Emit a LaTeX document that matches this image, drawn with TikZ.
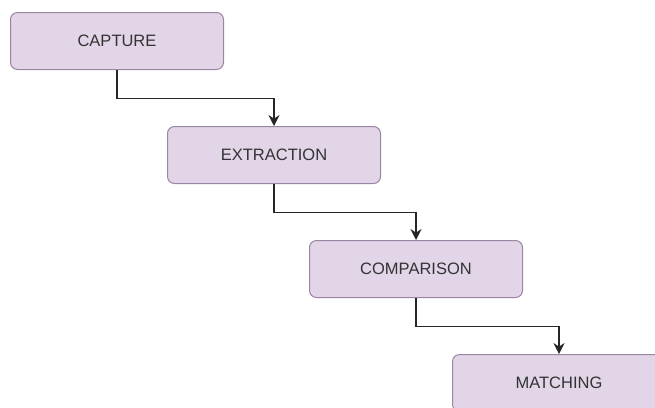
\documentclass[tikz,border=0pt]{standalone}
\usepackage{fontspec}
\setmainfont{Liberation Sans}
\usepackage{xcolor}
\usetikzlibrary{arrows.meta}

\definecolor{stepfill}{HTML}{E1D5E7}
\definecolor{stepline}{HTML}{9A86A4}
\definecolor{steptext}{HTML}{333333}

\tikzset{
    stepbox/.style={
        draw=stepline, fill=stepfill, line width=1pt,
        rounded corners=7pt,
        minimum width=213pt, minimum height=57pt, inner sep=0pt,
        text=steptext, font=\fontsize{16.5}{19}\selectfont,
    },
    flow/.style={
        draw=black!85, line width=1.3pt,
        -{Stealth[length=11pt,width=11pt]},
    },
}

\begin{document}
\begin{tikzpicture}[x=1pt,y=-1pt]
    % \draw[help lines] grid (655,407);
    \clip (0,0) rectangle (655,407);
    \useasboundingbox (0,0) rectangle (655,407);

    % Steps
    \node[stepbox] (capture)    at (117,41)  {CAPTURE};
    \node[stepbox] (extraction) at (274,155) {EXTRACTION};
    \node[stepbox] (comparison) at (416,269) {COMPARISON};
    \node[stepbox] (matching)   at (559,383) {MATCHING};

    % Connectors
    \draw[flow] (capture.south)    -- ++(0,28.5) -| (extraction.north);
    \draw[flow] (extraction.south) -- ++(0,28.5) -| (comparison.north);
    \draw[flow] (comparison.south) -- ++(0,28.5) -| (matching.north);

\end{tikzpicture}
\end{document}
